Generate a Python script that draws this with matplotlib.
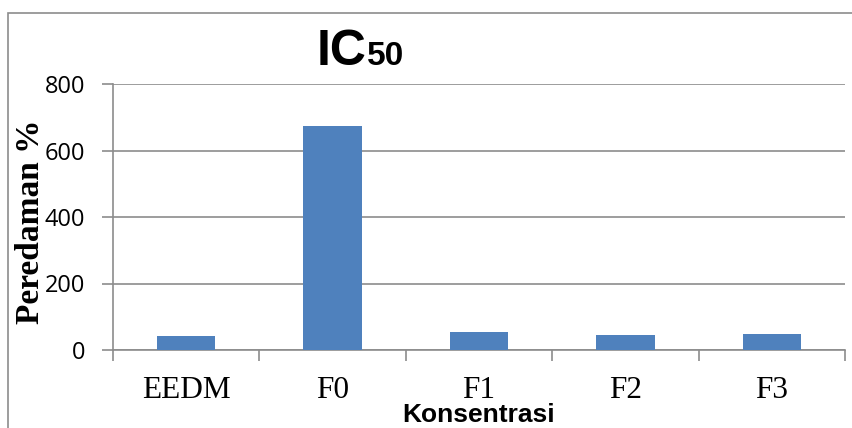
import matplotlib
matplotlib.use("Agg")
import matplotlib.pyplot as plt
from matplotlib.patches import Rectangle

categories = ["EEDM", "F0", "F1", "F2", "F3"]
values = [42, 674, 55, 44, 48]
yticks = [0, 200, 400, 600, 800]

W, H = 853, 428
fig = plt.figure(figsize=(W / 100, H / 100), dpi=100)

# outer chart frame (only left/top visible in the original)
fig.patches.append(Rectangle((8 / W, -0.1), 2, 1.1 - 13 / H,
                             transform=fig.transFigure, fill=False,
                             edgecolor="#8c8c8c", linewidth=1.2))

ax = fig.add_axes([113 / W, (H - 350) / H, (845 - 113) / W, (350 - 84) / H])
x = list(range(len(categories)))
ax.bar(x, values, width=0.4, color="#4f81bd", zorder=3)

ax.set_xlim(-0.5, len(categories) - 0.5)
ax.set_ylim(0, 800)
ax.set_yticks(yticks)
ax.set_yticklabels([str(v) for v in yticks], fontfamily="Open Sans", fontsize=17)
ax.set_xticks(x)
ax.set_xticklabels(categories, fontfamily="Liberation Serif", fontsize=22.5)
ax.set_xticks([i - 0.5 for i in range(len(categories) + 1)], minor=True)
ax.tick_params(axis="x", which="major", length=0, pad=19)
ax.tick_params(axis="x", which="minor", length=8, width=1.2, color="#8c8c8c")
ax.tick_params(axis="y", length=8, width=1.2, color="#8c8c8c", pad=12)

ax.grid(axis="y", color="#8c8c8c", linewidth=1.2, zorder=0)
for s in ["top", "right"]:
    ax.spines[s].set_visible(False)
for s in ["left", "bottom"]:
    ax.spines[s].set_color("#8c8c8c")
    ax.spines[s].set_linewidth(1.2)

fig.text(31 / W, (H - 222) / H, "Peredaman %", rotation=90, ha="center",
         va="center", fontfamily="Liberation Serif", fontweight="bold",
         fontsize=24)
fig.text(479 / W, (H - 422) / H, "Konsentrasi", ha="center", va="baseline",
         fontfamily="Liberation Sans", fontweight="bold", fontsize=19)

t1 = fig.text(317 / W, (H - 65) / H, "IC", ha="left", va="baseline",
              fontfamily="Liberation Sans", fontweight="bold", fontsize=36)
fig.canvas.draw()
bb = t1.get_window_extent()
fig.text(bb.x1 / W, (H - 65) / H, "50", ha="left", va="baseline",
         fontfamily="Liberation Sans", fontweight="bold", fontsize=24)

fig.savefig("out.png", dpi=100)
